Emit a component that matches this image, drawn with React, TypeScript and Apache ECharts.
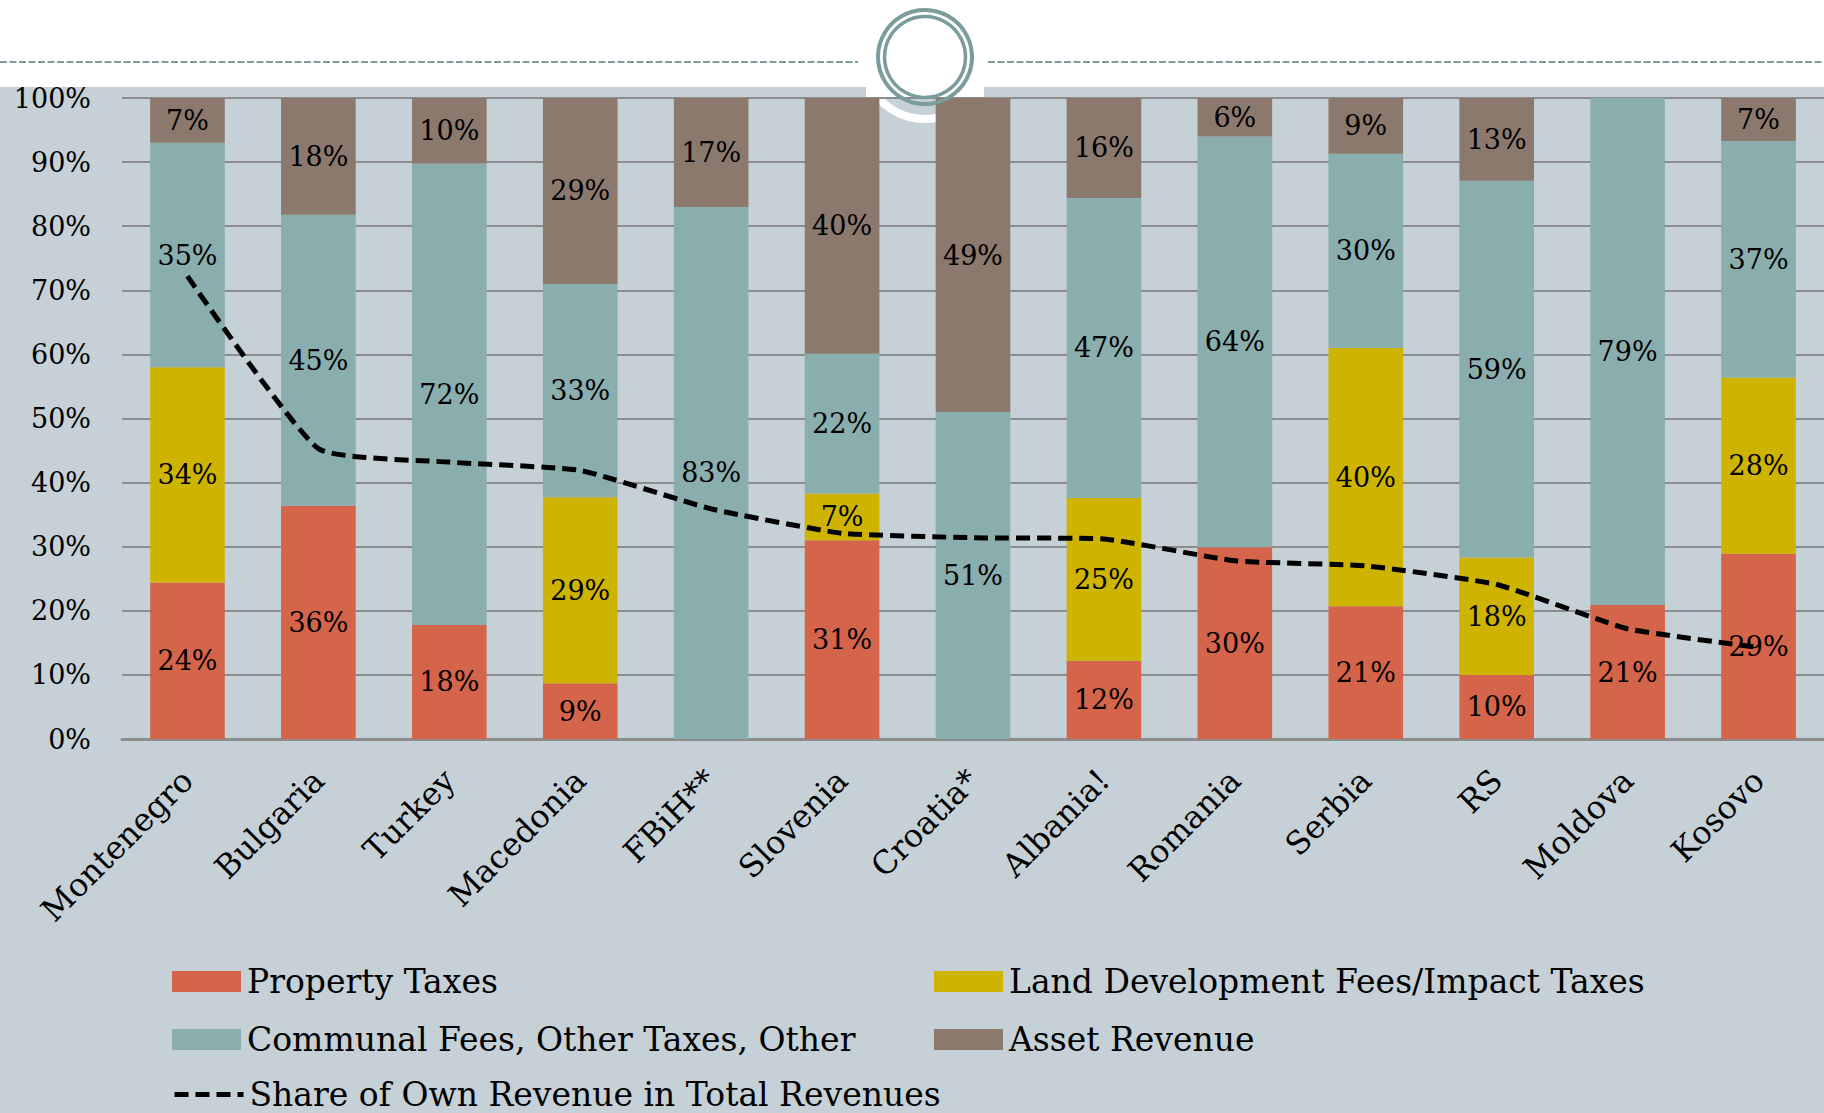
import React, { useEffect, useRef } from "react";
import * as echarts from "echarts";

const categories = ["Montenegro", "Bulgaria", "Turkey", "Macedonia", "FBiH**", "Slovenia", "Croatia*", "Albania!", "Romania", "Serbia", "RS", "Moldova", "Kosovo"];
const propertyTaxes = [24.4, 36.4, 17.8, 8.7, 0, 31.0, 0, 12.2, 29.9, 20.7, 10.0, 20.9, 28.9];
const landDevelopment = [33.6, 0, 0, 29.0, 0, 7.3, 0, 25.4, 0, 40.3, 18.3, 0, 27.5];
const communalFees = [35.0, 45.4, 72.0, 33.3, 83.0, 21.8, 51.0, 46.8, 64.1, 30.3, 58.8, 79.1, 36.9];
const assetRevenue = [7.0, 18.2, 10.2, 29.0, 17.0, 39.9, 49.0, 15.6, 6.0, 8.7, 12.9, 0, 6.7];
const ownRevenueShare = [72.2, 45.3, 43.2, 41.9, 35.9, 32.1, 31.4, 31.2, 27.8, 27.0, 24.1, 17.2, 14.3];

const seriesNames = [
  "Property Taxes",
  "Land Development Fees/Impact Taxes",
  "Communal Fees, Other Taxes, Other",
  "Asset Revenue",
  "Share of Own Revenue in Total Revenues",
];

const FONT = "DejaVu Serif";
const RED = "#D4644A";
const YELLOW = "#CEB400";
const TEAL = "#8AADAE";
const BROWN = "#8B796E";
const BG = "#C5D0D7";
const RING = "#7B9C9C";

export default function App() {
  const ref = useRef<HTMLDivElement>(null);
  useEffect(() => {
    if (!ref.current) return;
    const chart = echarts.init(ref.current, null, { renderer: "svg" });
    const label = {
      show: true,
      position: "inside",
      color: "#000",
      fontFamily: FONT,
      fontSize: 27,
      formatter: (p: any) => (p.value > 0 ? Math.round(p.value) + "%" : ""),
    };
    const bar = (name: string, data: number[], color: string) => ({
      name,
      type: "bar",
      stack: "total",
      data,
      barWidth: "57%",
      itemStyle: { color },
      label,
      z: 2,
    });
    const legendBase = {
      icon: "rect",
      itemWidth: 69,
      itemHeight: 21,
      itemGap: 0,
      textStyle: { fontFamily: FONT, fontSize: 33, color: "#000", padding: [0, 0, 0, 1] },
    };
    chart.setOption({
      animation: false,
      backgroundColor: BG,
      grid: { left: 122, right: 0, top: 98, bottom: 374, containLabel: false },
      graphic: [
        { type: "rect", shape: { x: 0, y: 0, width: 1824, height: 87 }, style: { fill: "#fff" }, z: -5 },
        { type: "circle", shape: { cx: 925, cy: 57, r: 66 }, style: { fill: "#fff" }, z: -4 },
        { type: "circle", shape: { cx: 925, cy: 57, r: 58 }, style: { fill: BG }, z: -3 },
        { type: "rect", shape: { x: 866, y: 0, width: 118, height: 97.5 }, style: { fill: "#fff" }, z: -2 },
        { type: "line", shape: { x1: 0, y1: 62, x2: 858, y2: 62 }, style: { stroke: RING, lineWidth: 2, lineDash: [7, 2.5] }, z: 5 },
        { type: "line", shape: { x1: 988, y1: 62, x2: 1824, y2: 62 }, style: { stroke: RING, lineWidth: 2, lineDash: [7, 2.5] }, z: 5 },
        { type: "circle", shape: { cx: 925, cy: 57, r: 47 }, style: { fill: "none", stroke: RING, lineWidth: 4 }, z: 20 },
        { type: "circle", shape: { cx: 925, cy: 57, r: 40.5 }, style: { fill: "none", stroke: RING, lineWidth: 3.5 }, z: 20 },
      ],
      legend: [
        { ...legendBase, data: [seriesNames[0]], left: 167, top: 960 },
        { ...legendBase, data: [seriesNames[1]], left: 929, top: 960 },
        { ...legendBase, data: [seriesNames[2]], left: 167, top: 1018 },
        { ...legendBase, data: [seriesNames[3]], left: 929, top: 1018 },
        {
          ...legendBase,
          icon: undefined,
          data: [{ name: seriesNames[4] }],
          left: 167,
          top: 1073,
          itemStyle: { opacity: 0 },
          lineStyle: { type: [14, 7], width: 5, color: "#000" },
        },
      ],
      xAxis: {
        type: "category",
        data: categories,
        axisTick: { show: false },
        axisLine: { show: true, lineStyle: { color: "#8C8C8C", width: 3 } },
        axisLabel: {
          rotate: 45,
          margin: 36,
          interval: 0,
          color: "#000",
          fontFamily: FONT,
          fontSize: 32,
        },
      },
      yAxis: {
        type: "value",
        min: 0,
        max: 100,
        interval: 10,
        axisLine: { show: false },
        axisTick: { show: false },
        splitLine: { show: true, lineStyle: { color: "#8C8C8C", width: 2 } },
        axisLabel: {
          formatter: "{value}%",
          margin: 31,
          color: "#000",
          fontFamily: FONT,
          fontSize: 27,
        },
      },
      series: [
        bar(seriesNames[0], propertyTaxes, RED),
        bar(seriesNames[1], landDevelopment, YELLOW),
        bar(seriesNames[2], communalFees, TEAL),
        bar(seriesNames[3], assetRevenue, BROWN),
        {
          name: seriesNames[4],
          type: "line",
          data: ownRevenueShare,
          symbol: "none",
          smooth: 0.15,
          lineStyle: { color: "#000", width: 5, type: [14, 7] },
          itemStyle: { color: "#000" },
          z: 10,
        },
      ],
    });
    return () => chart.dispose();
  }, []);
  return (
    <div
      ref={ref}
      style={{ position: "fixed", left: 0, top: 0, width: 1824, height: 1113 }}
    />
  );
}
